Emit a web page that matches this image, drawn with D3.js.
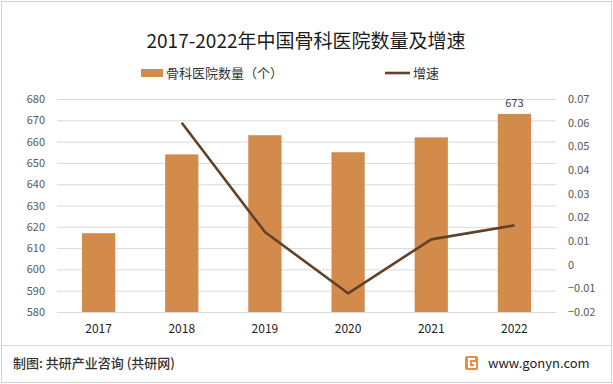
<!DOCTYPE html>
<html>
<head>
<meta charset="utf-8">
<script src="https://cdn.jsdelivr.net/npm/d3@7"></script>
<style>
  body { margin: 0; background: #fff; }
  text { font-family: "Noto Sans CJK SC", "Noto Sans", sans-serif; }
</style>
</head>
<body>
<svg id="chart" width="613" height="384"></svg>
<script>
// data
const years = ["2017", "2018", "2019", "2020", "2021", "2022"];
const hospitals = [617, 654, 663, 655, 662, 673];
const growth = [null, 0.06, 0.0138, -0.0121, 0.0107, 0.0166];
const leftTicks = [580, 590, 600, 610, 620, 630, 640, 650, 660, 670, 680];
const rightTicks = [-0.02, -0.01, 0, 0.01, 0.02, 0.03, 0.04, 0.05, 0.06, 0.07];

const svg = d3.select("#chart");
const W = 613, H = 384;
const m = { left: 57, right: 57, top: 99, bottom: 72 };

// outer frame
svg.append("rect").attr("x", 1.5).attr("y", 1.5).attr("width", W - 3).attr("height", H - 3)
  .attr("fill", "#fff").attr("stroke", "#d0d0d0");

const x = d3.scaleBand().domain(years).range([m.left, W - m.right]).paddingInner(0.6).paddingOuter(0.3);
const yL = d3.scaleLinear().domain([580, 680]).range([H - m.bottom, m.top]);
const yR = d3.scaleLinear().domain([-0.02, 0.07]).range([H - m.bottom, m.top]);

// gridlines
svg.append("g").selectAll("line").data(leftTicks).enter().append("line")
  .attr("x1", m.left).attr("x2", W - m.right)
  .attr("y1", d => yL(d) + 0.5).attr("y2", d => yL(d) + 0.5)
  .attr("stroke", "#d9d9d9").attr("stroke-width", 1);

// left axis
const axL = svg.append("g").attr("transform", `translate(${m.left},0)`)
  .call(d3.axisLeft(yL).tickValues(leftTicks).tickSize(0).tickPadding(12));
axL.select(".domain").remove();
axL.selectAll("text").attr("font-size", 11).attr("fill", "#595959");

// right axis
const axR = svg.append("g").attr("transform", `translate(${W - m.right},0)`)
  .call(d3.axisRight(yR).tickValues(rightTicks).tickSize(0).tickPadding(12)
    .tickFormat(d => d === 0 ? "0" : d3.format(".2f")(d)));
axR.select(".domain").remove();
axR.selectAll("text").attr("font-size", 11).attr("fill", "#595959");

// bottom axis
const axB = svg.append("g").attr("transform", `translate(0,${H - m.bottom})`)
  .call(d3.axisBottom(x).tickSize(0).tickPadding(12));
axB.select(".domain").remove();
axB.selectAll("text").attr("font-size", 12).attr("fill", "#222");

// bars
svg.append("g").selectAll("rect").data(hospitals).enter().append("rect")
  .attr("x", (d, i) => x(years[i]))
  .attr("y", d => yL(d))
  .attr("width", x.bandwidth())
  .attr("height", d => yL(580) - yL(d))
  .attr("fill", "#d38b4c");

// label on last bar
svg.append("text").attr("x", x("2022") + x.bandwidth() / 2).attr("y", yL(673) - 7)
  .attr("text-anchor", "middle").attr("font-size", 11).attr("fill", "#404040")
  .text(hospitals[hospitals.length - 1]);

// growth line
const pts = growth.map((g, i) => [years[i], g]).filter(p => p[1] !== null);
svg.append("path").datum(pts)
  .attr("fill", "none").attr("stroke", "#624128").attr("stroke-width", 2.6)
  .attr("stroke-linejoin", "round")
  .attr("d", d3.line().x(p => x(p[0]) + x.bandwidth() / 2).y(p => yR(p[1])));

// title
svg.append("text").attr("x", 306).attr("y", 48).attr("text-anchor", "middle")
  .attr("font-size", 19).attr("fill", "#1a1a1a").text("2017-2022年中国骨科医院数量及增速");

// legend
svg.append("rect").attr("x", 141).attr("y", 69).attr("width", 22).attr("height", 8).attr("fill", "#d38b4c");
svg.append("text").attr("x", 166).attr("y", 78).attr("font-size", 13).attr("fill", "#333").text("骨科医院数量（个）");
svg.append("line").attr("x1", 385).attr("x2", 410).attr("y1", 73).attr("y2", 73)
  .attr("stroke", "#624128").attr("stroke-width", 2.6);
svg.append("text").attr("x", 413).attr("y", 78).attr("font-size", 13).attr("fill", "#333").text("增速");

// footer
svg.append("line").attr("x1", 2).attr("x2", W - 2).attr("y1", 345.5).attr("y2", 345.5)
  .attr("stroke", "#d9d9d9");
svg.append("text").attr("x", 13).attr("y", 368).attr("font-size", 13).attr("font-weight", 500)
  .attr("fill", "#333").text("制图: 共研产业咨询 (共研网)");
const logo = svg.append("g").attr("transform", "translate(465,356)");
logo.append("rect").attr("width", 13).attr("height", 14).attr("rx", 2).attr("fill", "#f08a3c");
logo.append("path").attr("d", "M10,3 H4 V11 H10 V7 H7").attr("fill", "none").attr("stroke", "#fff").attr("stroke-width", 2);
svg.append("text").attr("x", 488).attr("y", 368).attr("font-size", 13).attr("fill", "#222")
  .attr("font-family", "Liberation Sans, Arial, sans-serif").text("www.gonyn.com");
</script>
</body>
</html>
